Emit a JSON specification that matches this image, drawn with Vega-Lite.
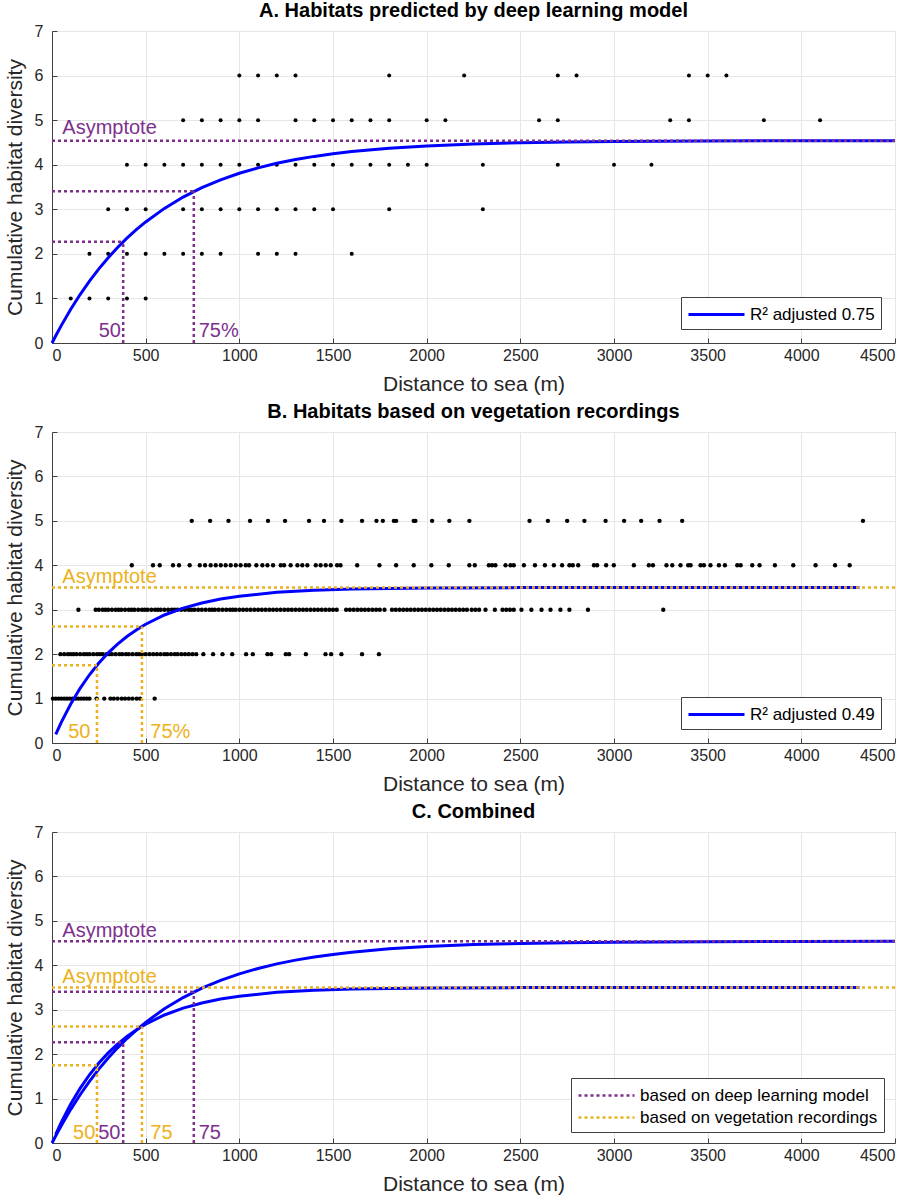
{
  "$schema": "https://vega.github.io/schema/vega-lite/v6.json",
  "padding": {"left": 3, "top": 0, "right": 5, "bottom": 0},
  "background": "white",
  "spacing": 6,
  "datasets": {
    "ptsA": [
      {"x":100,"y":1},{"x":200,"y":1},{"x":300,"y":1},{"x":400,"y":1},{"x":500,"y":1},
      {"x":200,"y":2},{"x":300,"y":2},{"x":400,"y":2},{"x":500,"y":2},{"x":600,"y":2},{"x":700,"y":2},{"x":800,"y":2},{"x":900,"y":2},{"x":1100,"y":2},{"x":1200,"y":2},{"x":1300,"y":2},{"x":1600,"y":2},
      {"x":300,"y":3},{"x":400,"y":3},{"x":500,"y":3},{"x":700,"y":3},{"x":800,"y":3},{"x":900,"y":3},{"x":1000,"y":3},{"x":1100,"y":3},{"x":1200,"y":3},{"x":1300,"y":3},{"x":1400,"y":3},{"x":1500,"y":3},{"x":1800,"y":3},{"x":2300,"y":3},
      {"x":400,"y":4},{"x":500,"y":4},{"x":600,"y":4},{"x":700,"y":4},{"x":800,"y":4},{"x":900,"y":4},{"x":1000,"y":4},{"x":1100,"y":4},{"x":1200,"y":4},{"x":1300,"y":4},{"x":1400,"y":4},{"x":1500,"y":4},{"x":1600,"y":4},{"x":1700,"y":4},{"x":1800,"y":4},{"x":1900,"y":4},{"x":2000,"y":4},{"x":2300,"y":4},{"x":2700,"y":4},{"x":3000,"y":4},{"x":3200,"y":4},
      {"x":700,"y":5},{"x":800,"y":5},{"x":900,"y":5},{"x":1000,"y":5},{"x":1100,"y":5},{"x":1300,"y":5},{"x":1400,"y":5},{"x":1500,"y":5},{"x":1600,"y":5},{"x":1700,"y":5},{"x":1800,"y":5},{"x":2000,"y":5},{"x":2100,"y":5},{"x":2600,"y":5},{"x":2700,"y":5},{"x":3300,"y":5},{"x":3400,"y":5},{"x":3800,"y":5},{"x":4100,"y":5},
      {"x":1000,"y":6},{"x":1100,"y":6},{"x":1200,"y":6},{"x":1300,"y":6},{"x":1800,"y":6},{"x":2200,"y":6},{"x":2700,"y":6},{"x":2800,"y":6},{"x":3400,"y":6},{"x":3500,"y":6},{"x":3600,"y":6}
    ],
    "ptsB": [
      {"x":5,"y":1},{"x":20,"y":1},{"x":35,"y":1},{"x":50,"y":1},{"x":65,"y":1},{"x":80,"y":1},{"x":95,"y":1},{"x":110,"y":1},{"x":125,"y":1},{"x":140,"y":1},{"x":155,"y":1},{"x":170,"y":1},{"x":185,"y":1},{"x":200,"y":1},{"x":238,"y":1},{"x":279,"y":1},{"x":312,"y":1},{"x":330,"y":1},{"x":350,"y":1},{"x":372,"y":1},{"x":390,"y":1},{"x":410,"y":1},{"x":430,"y":1},{"x":452,"y":1},{"x":470,"y":1},{"x":548,"y":1},
      {"x":45,"y":2},{"x":65,"y":2},{"x":85,"y":2},{"x":100,"y":2},{"x":115,"y":2},{"x":130,"y":2},{"x":150,"y":2},{"x":170,"y":2},{"x":185,"y":2},{"x":200,"y":2},{"x":220,"y":2},{"x":240,"y":2},{"x":255,"y":2},{"x":270,"y":2},{"x":290,"y":2},{"x":305,"y":2},{"x":320,"y":2},{"x":340,"y":2},{"x":360,"y":2},{"x":375,"y":2},{"x":395,"y":2},{"x":410,"y":2},{"x":430,"y":2},{"x":450,"y":2},{"x":465,"y":2},{"x":480,"y":2},{"x":500,"y":2},{"x":520,"y":2},{"x":540,"y":2},{"x":560,"y":2},{"x":580,"y":2},{"x":600,"y":2},{"x":615,"y":2},{"x":635,"y":2},{"x":655,"y":2},{"x":670,"y":2},{"x":690,"y":2},{"x":710,"y":2},{"x":730,"y":2},{"x":750,"y":2},{"x":770,"y":2},{"x":808,"y":2},{"x":860,"y":2},{"x":910,"y":2},{"x":962,"y":2},{"x":1036,"y":2},{"x":1072,"y":2},{"x":1150,"y":2},{"x":1170,"y":2},{"x":1248,"y":2},{"x":1266,"y":2},{"x":1355,"y":2},{"x":1460,"y":2},{"x":1490,"y":2},{"x":1545,"y":2},{"x":1655,"y":2},{"x":1745,"y":2},
      {"x":141,"y":3},{"x":233,"y":3},{"x":250,"y":3},{"x":270,"y":3},{"x":285,"y":3},{"x":300,"y":3},{"x":320,"y":3},{"x":340,"y":3},{"x":355,"y":3},{"x":370,"y":3},{"x":390,"y":3},{"x":410,"y":3},{"x":425,"y":3},{"x":440,"y":3},{"x":460,"y":3},{"x":480,"y":3},{"x":495,"y":3},{"x":510,"y":3},{"x":530,"y":3},{"x":550,"y":3},{"x":565,"y":3},{"x":580,"y":3},{"x":600,"y":3},{"x":620,"y":3},{"x":640,"y":3},{"x":655,"y":3},{"x":670,"y":3},{"x":690,"y":3},{"x":710,"y":3},{"x":730,"y":3},{"x":745,"y":3},{"x":760,"y":3},{"x":780,"y":3},{"x":800,"y":3},{"x":820,"y":3},{"x":840,"y":3},{"x":855,"y":3},{"x":870,"y":3},{"x":890,"y":3},{"x":910,"y":3},{"x":930,"y":3},{"x":950,"y":3},{"x":965,"y":3},{"x":980,"y":3},{"x":1000,"y":3},{"x":1020,"y":3},{"x":1040,"y":3},{"x":1060,"y":3},{"x":1080,"y":3},{"x":1100,"y":3},{"x":1120,"y":3},{"x":1140,"y":3},{"x":1160,"y":3},{"x":1180,"y":3},{"x":1200,"y":3},{"x":1220,"y":3},{"x":1240,"y":3},{"x":1260,"y":3},{"x":1280,"y":3},{"x":1300,"y":3},{"x":1320,"y":3},{"x":1340,"y":3},{"x":1360,"y":3},{"x":1380,"y":3},{"x":1400,"y":3},{"x":1420,"y":3},{"x":1440,"y":3},{"x":1460,"y":3},{"x":1480,"y":3},{"x":1500,"y":3},{"x":1520,"y":3},{"x":1570,"y":3},{"x":1590,"y":3},{"x":1610,"y":3},{"x":1630,"y":3},{"x":1650,"y":3},{"x":1670,"y":3},{"x":1690,"y":3},{"x":1710,"y":3},{"x":1730,"y":3},{"x":1750,"y":3},{"x":1775,"y":3},{"x":1815,"y":3},{"x":1835,"y":3},{"x":1855,"y":3},{"x":1875,"y":3},{"x":1895,"y":3},{"x":1915,"y":3},{"x":1935,"y":3},{"x":1955,"y":3},{"x":1975,"y":3},{"x":1995,"y":3},{"x":2015,"y":3},{"x":2035,"y":3},{"x":2055,"y":3},{"x":2075,"y":3},{"x":2095,"y":3},{"x":2115,"y":3},{"x":2135,"y":3},{"x":2155,"y":3},{"x":2175,"y":3},{"x":2195,"y":3},{"x":2215,"y":3},{"x":2240,"y":3},{"x":2260,"y":3},{"x":2280,"y":3},{"x":2314,"y":3},{"x":2364,"y":3},{"x":2405,"y":3},{"x":2425,"y":3},{"x":2445,"y":3},{"x":2465,"y":3},{"x":2506,"y":3},{"x":2559,"y":3},{"x":2613,"y":3},{"x":2661,"y":3},{"x":2714,"y":3},{"x":2762,"y":3},{"x":2861,"y":3},{"x":3263,"y":3},
      {"x":426,"y":4},{"x":539,"y":4},{"x":575,"y":4},{"x":646,"y":4},{"x":678,"y":4},{"x":735,"y":4},{"x":789,"y":4},{"x":817,"y":4},{"x":847,"y":4},{"x":874,"y":4},{"x":901,"y":4},{"x":927,"y":4},{"x":954,"y":4},{"x":981,"y":4},{"x":1007,"y":4},{"x":1034,"y":4},{"x":1052,"y":4},{"x":1091,"y":4},{"x":1123,"y":4},{"x":1150,"y":4},{"x":1180,"y":4},{"x":1221,"y":4},{"x":1239,"y":4},{"x":1274,"y":4},{"x":1310,"y":4},{"x":1336,"y":4},{"x":1363,"y":4},{"x":1408,"y":4},{"x":1434,"y":4},{"x":1461,"y":4},{"x":1488,"y":4},{"x":1522,"y":4},{"x":1540,"y":4},{"x":1629,"y":4},{"x":1748,"y":4},{"x":1837,"y":4},{"x":1931,"y":4},{"x":2025,"y":4},{"x":2118,"y":4},{"x":2228,"y":4},{"x":2257,"y":4},{"x":2332,"y":4},{"x":2349,"y":4},{"x":2367,"y":4},{"x":2421,"y":4},{"x":2447,"y":4},{"x":2465,"y":4},{"x":2519,"y":4},{"x":2578,"y":4},{"x":2631,"y":4},{"x":2679,"y":4},{"x":2723,"y":4},{"x":2762,"y":4},{"x":2780,"y":4},{"x":2809,"y":4},{"x":2893,"y":4},{"x":2910,"y":4},{"x":2958,"y":4},{"x":2999,"y":4},{"x":3106,"y":4},{"x":3186,"y":4},{"x":3208,"y":4},{"x":3280,"y":4},{"x":3311,"y":4},{"x":3355,"y":4},{"x":3396,"y":4},{"x":3409,"y":4},{"x":3462,"y":4},{"x":3480,"y":4},{"x":3515,"y":4},{"x":3560,"y":4},{"x":3592,"y":4},{"x":3658,"y":4},{"x":3676,"y":4},{"x":3738,"y":4},{"x":3777,"y":4},{"x":3859,"y":4},{"x":3957,"y":4},{"x":4076,"y":4},{"x":4180,"y":4},{"x":4258,"y":4},
      {"x":746,"y":5},{"x":844,"y":5},{"x":942,"y":5},{"x":1057,"y":5},{"x":1153,"y":5},{"x":1244,"y":5},{"x":1372,"y":5},{"x":1452,"y":5},{"x":1545,"y":5},{"x":1655,"y":5},{"x":1732,"y":5},{"x":1766,"y":5},{"x":1825,"y":5},{"x":1837,"y":5},{"x":1931,"y":5},{"x":1940,"y":5},{"x":2029,"y":5},{"x":2121,"y":5},{"x":2228,"y":5},{"x":2549,"y":5},{"x":2647,"y":5},{"x":2750,"y":5},{"x":2842,"y":5},{"x":2955,"y":5},{"x":3054,"y":5},{"x":3145,"y":5},{"x":3243,"y":5},{"x":3364,"y":5},{"x":4329,"y":5}
    ],
    "curves": [
      {"model":"deep","fit":"R² adjusted 0.75","x":0,"y":0},{"model":"deep","fit":"R² adjusted 0.75","x":25,"y":0.2024},{"model":"deep","fit":"R² adjusted 0.75","x":50,"y":0.3957},{"model":"deep","fit":"R² adjusted 0.75","x":100,"y":0.757},{"model":"deep","fit":"R² adjusted 0.75","x":150,"y":1.0867},{"model":"deep","fit":"R² adjusted 0.75","x":200,"y":1.3877},{"model":"deep","fit":"R² adjusted 0.75","x":250,"y":1.6625},{"model":"deep","fit":"R² adjusted 0.75","x":300,"y":1.9133},{"model":"deep","fit":"R² adjusted 0.75","x":350,"y":2.1423},{"model":"deep","fit":"R² adjusted 0.75","x":400,"y":2.3513},{"model":"deep","fit":"R² adjusted 0.75","x":450,"y":2.542},{"model":"deep","fit":"R² adjusted 0.75","x":500,"y":2.7162},{"model":"deep","fit":"R² adjusted 0.75","x":600,"y":3.0203},{"model":"deep","fit":"R² adjusted 0.75","x":700,"y":3.2737},{"model":"deep","fit":"R² adjusted 0.75","x":800,"y":3.4848},{"model":"deep","fit":"R² adjusted 0.75","x":900,"y":3.6607},{"model":"deep","fit":"R² adjusted 0.75","x":1000,"y":3.8073},{"model":"deep","fit":"R² adjusted 0.75","x":1100,"y":3.9284},{"model":"deep","fit":"R² adjusted 0.75","x":1200,"y":4.0312},{"model":"deep","fit":"R² adjusted 0.75","x":1300,"y":4.1164},{"model":"deep","fit":"R² adjusted 0.75","x":1400,"y":4.1867},{"model":"deep","fit":"R² adjusted 0.75","x":1500,"y":4.2452},{"model":"deep","fit":"R² adjusted 0.75","x":1600,"y":4.2947},{"model":"deep","fit":"R² adjusted 0.75","x":1800,"y":4.3697},{"model":"deep","fit":"R² adjusted 0.75","x":2000,"y":4.4217},{"model":"deep","fit":"R² adjusted 0.75","x":2250,"y":4.4651},{"model":"deep","fit":"R² adjusted 0.75","x":2500,"y":4.4925},{"model":"deep","fit":"R² adjusted 0.75","x":2750,"y":4.5099},{"model":"deep","fit":"R² adjusted 0.75","x":3000,"y":4.5209},{"model":"deep","fit":"R² adjusted 0.75","x":3500,"y":4.5323},{"model":"deep","fit":"R² adjusted 0.75","x":4000,"y":4.5369},{"model":"deep","fit":"R² adjusted 0.75","x":4500,"y":4.5387},
      {"model":"veg","fit":"R² adjusted 0.49","x":20,"y":0.1964},{"model":"veg","fit":"R² adjusted 0.49","x":50,"y":0.4706},{"model":"veg","fit":"R² adjusted 0.49","x":100,"y":0.8779},{"model":"veg","fit":"R² adjusted 0.49","x":150,"y":1.2305},{"model":"veg","fit":"R² adjusted 0.49","x":200,"y":1.5357},{"model":"veg","fit":"R² adjusted 0.49","x":250,"y":1.7998},{"model":"veg","fit":"R² adjusted 0.49","x":300,"y":2.0284},{"model":"veg","fit":"R² adjusted 0.49","x":350,"y":2.2262},{"model":"veg","fit":"R² adjusted 0.49","x":400,"y":2.3975},{"model":"veg","fit":"R² adjusted 0.49","x":450,"y":2.5437},{"model":"veg","fit":"R² adjusted 0.49","x":500,"y":2.6741},{"model":"veg","fit":"R² adjusted 0.49","x":600,"y":2.8813},{"model":"veg","fit":"R² adjusted 0.49","x":700,"y":3.0364},{"model":"veg","fit":"R² adjusted 0.49","x":800,"y":3.1527},{"model":"veg","fit":"R² adjusted 0.49","x":900,"y":3.2396},{"model":"veg","fit":"R² adjusted 0.49","x":1000,"y":3.3051},{"model":"veg","fit":"R² adjusted 0.49","x":1200,"y":3.3906},{"model":"veg","fit":"R² adjusted 0.49","x":1400,"y":3.4386},{"model":"veg","fit":"R² adjusted 0.49","x":1600,"y":3.4656},{"model":"veg","fit":"R² adjusted 0.49","x":2000,"y":3.4892},{"model":"veg","fit":"R² adjusted 0.49","x":2500,"y":3.4974},{"model":"veg","fit":"R² adjusted 0.49","x":3000,"y":3.4994},{"model":"veg","fit":"R² adjusted 0.49","x":3500,"y":3.4999},{"model":"veg","fit":"R² adjusted 0.49","x":4310,"y":3.5}
    ],
    "refs": [
      {"model":"based on deep learning model","x":0,"x2":4500,"y":4.54,"y2":4.54},
      {"model":"based on deep learning model","x":0,"x2":380,"y":2.27,"y2":2.27},
      {"model":"based on deep learning model","x":380,"x2":380,"y":0,"y2":2.27},
      {"model":"based on deep learning model","x":0,"x2":757,"y":3.405,"y2":3.405},
      {"model":"based on deep learning model","x":757,"x2":757,"y":0,"y2":3.405},
      {"model":"based on vegetation recordings","x":0,"x2":4500,"y":3.5,"y2":3.5},
      {"model":"based on vegetation recordings","x":0,"x2":240,"y":1.75,"y2":1.75},
      {"model":"based on vegetation recordings","x":240,"x2":240,"y":0,"y2":1.75},
      {"model":"based on vegetation recordings","x":0,"x2":480,"y":2.625,"y2":2.625},
      {"model":"based on vegetation recordings","x":480,"x2":480,"y":0,"y2":2.625}
    ],
    "labels": [
      {"panel":"A","model":"based on deep learning model","kind":"asym","x":55,"y":4.69,"text":"Asymptote"},
      {"panel":"A","model":"based on deep learning model","kind":"p50","x":368,"y":0.13,"text":"50"},
      {"panel":"A","model":"based on deep learning model","kind":"p75","x":783,"y":0.13,"text":"75%"},
      {"panel":"B","model":"based on vegetation recordings","kind":"asym","x":55,"y":3.6,"text":"Asymptote"},
      {"panel":"B","model":"based on vegetation recordings","kind":"p50","x":205,"y":0.11,"text":"50"},
      {"panel":"B","model":"based on vegetation recordings","kind":"p75","x":525,"y":0.11,"text":"75%"},
      {"panel":"C","model":"based on deep learning model","kind":"asym","x":55,"y":4.64,"text":"Asymptote"},
      {"panel":"C","model":"based on vegetation recordings","kind":"asym","x":55,"y":3.6,"text":"Asymptote"},
      {"panel":"C","model":"based on vegetation recordings","kind":"p50","x":231,"y":0.1,"text":"50"},
      {"panel":"C","model":"based on deep learning model","kind":"p50","x":365,"y":0.1,"text":"50"},
      {"panel":"C","model":"based on vegetation recordings","kind":"p75","x":525,"y":0.1,"text":"75"},
      {"panel":"C","model":"based on deep learning model","kind":"p75","x":783,"y":0.1,"text":"75"}
    ]
  },
  "resolve": {"scale": {"color": "independent", "stroke": "independent", "x": "independent", "y": "independent"}, "legend": {"color": "independent", "stroke": "independent"}},
  "vconcat": [
    {
      "width": 843, "height": 312,
      "title": {"text": "A. Habitats predicted by deep learning model"},
      "layer": [
        {"data": {"name": "ptsA"}, "mark": {"type": "circle", "size": 16, "color": "black", "opacity": 1},
         "encoding": {
           "x": {"field": "x", "type": "quantitative", "scale": {"domain": [0, 4500], "nice": false}, "axis": {"title": "Distance to sea (m)", "format": "d", "values": [0,500,1000,1500,2000,2500,3000,3500,4000,4500]}},
           "y": {"field": "y", "type": "quantitative", "scale": {"domain": [0, 7], "nice": false}, "axis": {"title": "Cumulative habitat diversity", "values": [0,1,2,3,4,5,6,7]}}}},
        {"data": {"name": "curves"}, "transform": [{"filter": "datum.model == 'deep'"}], "mark": {"type": "line", "strokeWidth": 3},
         "encoding": {"x": {"field": "x", "type": "quantitative"}, "y": {"field": "y", "type": "quantitative"},
           "stroke": {"field": "fit", "type": "nominal", "scale": {"range": ["#0000ff"]}, "legend": {"offset": 14}}}},
        {"data": {"name": "refs"}, "transform": [{"filter": "datum.model == 'based on deep learning model'"}], "mark": {"type": "rule", "strokeWidth": 2.5, "strokeDash": [3, 3]},
         "encoding": {"x": {"field": "x", "type": "quantitative"}, "x2": {"field": "x2"}, "y": {"field": "y", "type": "quantitative"}, "y2": {"field": "y2"},
           "color": {"field": "model", "type": "nominal", "scale": {"domain": ["based on deep learning model", "based on vegetation recordings"], "range": ["#7E2F8E", "#EDB120"]}, "legend": null}}},
        {"data": {"name": "labels"}, "transform": [{"filter": "datum.panel == 'A' && datum.kind != 'p50'"}], "mark": {"type": "text", "align": "left", "baseline": "alphabetic", "fontSize": 20},
         "encoding": {"x": {"field": "x", "type": "quantitative"}, "y": {"field": "y", "type": "quantitative"}, "text": {"field": "text"},
           "color": {"field": "model", "type": "nominal", "scale": {"domain": ["based on deep learning model", "based on vegetation recordings"], "range": ["#8C4A9C", "#EDB120"]}, "legend": null}}},
        {"data": {"name": "labels"}, "transform": [{"filter": "datum.panel == 'A' && datum.kind == 'p50'"}], "mark": {"type": "text", "align": "right", "baseline": "alphabetic", "fontSize": 20},
         "encoding": {"x": {"field": "x", "type": "quantitative"}, "y": {"field": "y", "type": "quantitative"}, "text": {"field": "text"},
           "color": {"field": "model", "type": "nominal", "scale": {"domain": ["based on deep learning model", "based on vegetation recordings"], "range": ["#8C4A9C", "#EDB120"]}, "legend": null}}}
      ]
    },
    {
      "width": 843, "height": 311,
      "title": {"text": "B. Habitats based on vegetation recordings"},
      "layer": [
        {"data": {"name": "ptsB"}, "mark": {"type": "circle", "size": 19, "color": "black", "opacity": 1},
         "encoding": {
           "x": {"field": "x", "type": "quantitative", "scale": {"domain": [0, 4500], "nice": false}, "axis": {"title": "Distance to sea (m)", "format": "d", "values": [0,500,1000,1500,2000,2500,3000,3500,4000,4500]}},
           "y": {"field": "y", "type": "quantitative", "scale": {"domain": [0, 7], "nice": false}, "axis": {"title": "Cumulative habitat diversity", "values": [0,1,2,3,4,5,6,7]}}}},
        {"data": {"name": "curves"}, "transform": [{"filter": "datum.model == 'veg'"}], "mark": {"type": "line", "strokeWidth": 3},
         "encoding": {"x": {"field": "x", "type": "quantitative"}, "y": {"field": "y", "type": "quantitative"},
           "stroke": {"field": "fit", "type": "nominal", "scale": {"range": ["#0000ff"]}, "legend": {"offset": 14}}}},
        {"data": {"name": "refs"}, "transform": [{"filter": "datum.model == 'based on vegetation recordings'"}], "mark": {"type": "rule", "strokeWidth": 2.5, "strokeDash": [3, 3]},
         "encoding": {"x": {"field": "x", "type": "quantitative"}, "x2": {"field": "x2"}, "y": {"field": "y", "type": "quantitative"}, "y2": {"field": "y2"},
           "color": {"field": "model", "type": "nominal", "scale": {"domain": ["based on deep learning model", "based on vegetation recordings"], "range": ["#7E2F8E", "#EDB120"]}, "legend": null}}},
        {"data": {"name": "labels"}, "transform": [{"filter": "datum.panel == 'B' && datum.kind != 'p50'"}], "mark": {"type": "text", "align": "left", "baseline": "alphabetic", "fontSize": 20},
         "encoding": {"x": {"field": "x", "type": "quantitative"}, "y": {"field": "y", "type": "quantitative"}, "text": {"field": "text"},
           "color": {"field": "model", "type": "nominal", "scale": {"domain": ["based on deep learning model", "based on vegetation recordings"], "range": ["#8C4A9C", "#F0BE3C"]}, "legend": null}}},
        {"data": {"name": "labels"}, "transform": [{"filter": "datum.panel == 'B' && datum.kind == 'p50'"}], "mark": {"type": "text", "align": "right", "baseline": "alphabetic", "fontSize": 20},
         "encoding": {"x": {"field": "x", "type": "quantitative"}, "y": {"field": "y", "type": "quantitative"}, "text": {"field": "text"},
           "color": {"field": "model", "type": "nominal", "scale": {"domain": ["based on deep learning model", "based on vegetation recordings"], "range": ["#8C4A9C", "#F0BE3C"]}, "legend": null}}}
      ]
    },
    {
      "width": 843, "height": 311,
      "title": {"text": "C. Combined"},
      "layer": [
        {"data": {"name": "curves"}, "mark": {"type": "line", "strokeWidth": 3, "color": "#0000ff"},
         "encoding": {
           "x": {"field": "x", "type": "quantitative", "scale": {"domain": [0, 4500], "nice": false}, "axis": {"title": "Distance to sea (m)", "format": "d", "values": [0,500,1000,1500,2000,2500,3000,3500,4000,4500]}},
           "y": {"field": "y", "type": "quantitative", "scale": {"domain": [0, 7], "nice": false}, "axis": {"title": "Cumulative habitat diversity", "values": [0,1,2,3,4,5,6,7]}},
           "detail": {"field": "model"}}},
        {"data": {"name": "refs"}, "mark": {"type": "rule", "strokeWidth": 2.5, "strokeDash": [3, 3]},
         "encoding": {"x": {"field": "x", "type": "quantitative"}, "x2": {"field": "x2"}, "y": {"field": "y", "type": "quantitative"}, "y2": {"field": "y2"},
           "color": {"field": "model", "type": "nominal", "scale": {"domain": ["based on deep learning model", "based on vegetation recordings"], "range": ["#7E2F8E", "#EDB120"]},
             "legend": {"offset": 11, "symbolDash": [3, 3], "symbolStrokeWidth": 2.5, "rowPadding": 2}}}},
        {"data": {"name": "labels"}, "transform": [{"filter": "datum.panel == 'C' && datum.kind != 'p50'"}], "mark": {"type": "text", "align": "left", "baseline": "alphabetic", "fontSize": 20},
         "encoding": {"x": {"field": "x", "type": "quantitative"}, "y": {"field": "y", "type": "quantitative"}, "text": {"field": "text"},
           "color": {"field": "model", "type": "nominal"}}},
        {"data": {"name": "labels"}, "transform": [{"filter": "datum.panel == 'C' && datum.kind == 'p50'"}], "mark": {"type": "text", "align": "right", "baseline": "alphabetic", "fontSize": 20},
         "encoding": {"x": {"field": "x", "type": "quantitative"}, "y": {"field": "y", "type": "quantitative"}, "text": {"field": "text"},
           "color": {"field": "model", "type": "nominal"}}}
      ]
    }
  ],
  "config": {
    "font": "Liberation Sans",
    "view": {"stroke": "#9a9a9a", "strokeWidth": 1},
    "axis": {"labelFontSize": 16, "labelColor": "#262626", "titleFontSize": 21, "titleFontWeight": "normal", "titleColor": "#262626",
      "gridColor": "#e6e6e6", "gridWidth": 1, "domainColor": "#404040", "tickColor": "#404040", "tickSize": -5, "labelFont": "Liberation Sans", "titleFont": "Liberation Sans"},
    "axisX": {"labelPadding": 9, "titlePadding": 10},
    "axisY": {"labelPadding": 14, "titlePadding": 9, "labelAngle": 0},
    "title": {"fontSize": 20, "fontWeight": "bold", "color": "#000000", "offset": 2, "font": "Liberation Sans", "anchor": "middle", "frame": "group"},
    "legend": {"orient": "bottom-right", "title": null, "symbolType": "M-1,0H4.6", "symbolSize": 400, "symbolStrokeWidth": 3, "labelOffset": 40,
      "labelFontSize": 17, "labelFont": "Liberation Sans", "labelColor": "#000000", "padding": 6, "strokeColor": "#404040", "fillColor": "white", "labelLimit": 400}
  }
}
